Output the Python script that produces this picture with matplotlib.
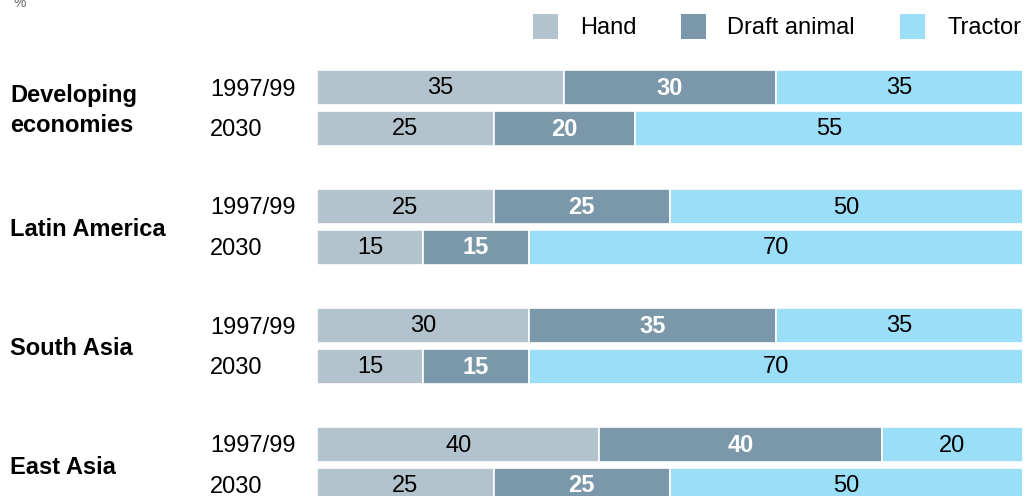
import matplotlib
matplotlib.use("Agg")
import matplotlib.pyplot as plt
from matplotlib.patches import Rectangle

plt.rcParams['font.family'] = ['Liberation Sans', 'DejaVu Sans']

regions = ["Developing\neconomies", "Latin America", "South Asia", "East Asia"]
periods = ["1997/99", "2030"]
series = ["Hand", "Draft animal", "Tractor"]
hand = [35, 25, 25, 15, 30, 15, 40, 25]
draft = [30, 20, 25, 15, 35, 15, 40, 25]
tractor = [35, 55, 50, 70, 35, 70, 20, 50]
colors = ["#b2c3cd", "#7a98aa", "#9adef7"]

W, H = 1025, 496
FS = 17
fig = plt.figure(figsize=(W / 100, H / 100), dpi=100)

# overlay axes in pixel coordinates for labels
ov = fig.add_axes([0, 0, 1, 1])
ov.set_xlim(0, W)
ov.set_ylim(H, 0)
ov.axis("off")

ax = fig.add_axes([317 / W, 0, 706 / W, 1])
ax.set_xlim(0, 100)
ax.set_ylim(H, 0)
ax.axis("off")

group_step = 119.0
top0 = 87.5
bar_h = 35
inner = 40.5

centers = []
for g in range(len(regions)):
    for p in range(len(periods)):
        centers.append(top0 + g * group_step + p * inner)

vals = [hand, draft, tractor]
left = [0] * len(hand)
for s, (v, c) in enumerate(zip(vals, colors)):
    ax.barh(centers, v, left=left, height=bar_h, color=c, edgecolor="white",
            linewidth=1.2)
    for i, (y, val) in enumerate(zip(centers, v)):
        x = left[i] + val / 2
        if s == 1:
            ax.text(x, y + 1, str(val), ha="center", va="center", fontsize=FS,
                    color="white", fontweight="bold")
        else:
            ax.text(x, y + 1, str(val), ha="center", va="center", fontsize=FS,
                    color="black")
    left = [l + val for l, val in zip(left, v)]

# period labels
for i, y in enumerate(centers):
    ov.text(210, y + 2, periods[i % 2], ha="left", va="center", fontsize=FS)

# region labels
for g, r in enumerate(regions):
    yc = top0 + g * group_step + inner / 2 + 3
    ov.text(10, yc, r, ha="left", va="center", fontsize=FS, fontweight="bold",
            linespacing=1.4)

# legend
leg_sq = [533, 681, 900]
leg_tx = [580, 727, 947]
for sx, tx, name, c in zip(leg_sq, leg_tx, series, colors):
    ov.add_patch(Rectangle((sx, 14), 25, 25, facecolor=c, edgecolor="none"))
    ov.text(tx, 28, name, ha="left", va="center", fontsize=FS)

ov.text(13, 3, "%", ha="left", va="center", fontsize=10, color="#666666")

fig.savefig("out.png", dpi=100)
